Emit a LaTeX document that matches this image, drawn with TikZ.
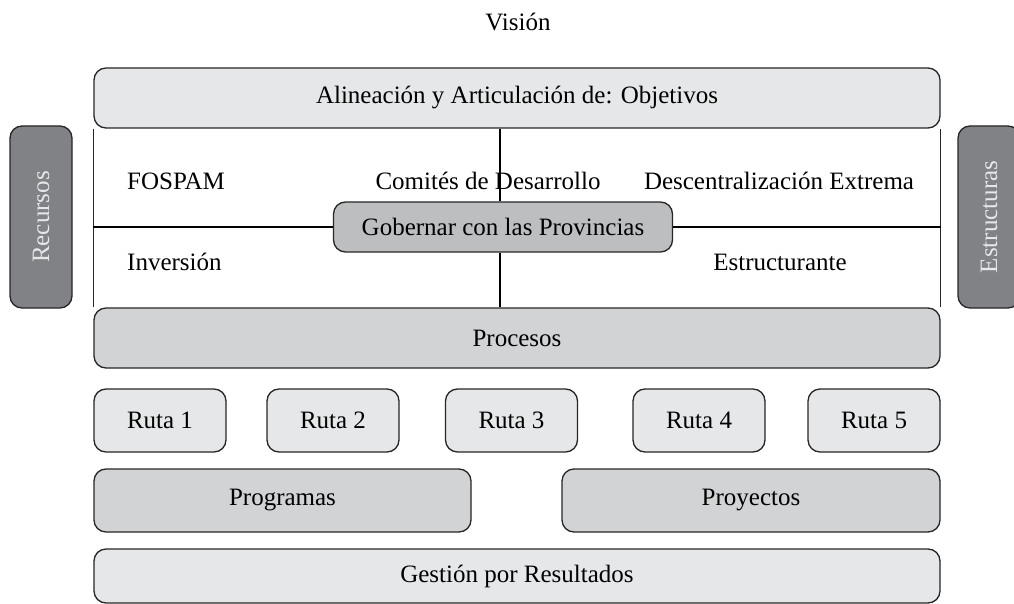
\documentclass[tikz,border=0pt]{standalone}
\usepackage{fontspec}
\setmainfont{Liberation Serif}
\usepackage{xcolor}
\usetikzlibrary{positioning}

\definecolor{grisclaro}{HTML}{E6E7E8}
\definecolor{grismedio}{HTML}{D1D3D4}
\definecolor{grisgob}{HTML}{BCBEC0}
\definecolor{grisoscuro}{HTML}{808285}

\begin{document}
\begin{tikzpicture}[
        x=1pt, y=-1pt,
        caja/.style={draw=black!85, line width=1.3pt, rounded corners=12pt, inner sep=0pt,
            font=\fontsize{25}{29}\selectfont},
        claro/.style={caja, fill=grisclaro},
        medio/.style={caja, fill=grismedio},
        oscuro/.style={caja, fill=grisoscuro, text=grisclaro, rotate=90,
            minimum width=182pt, minimum height=62pt},
        ruta/.style={claro, minimum width=132pt, minimum height=63pt},
        texto/.style={font=\fontsize{25}{29}\selectfont, inner sep=0pt},
        linea/.style={line width=2.6pt}
    ]
        \useasboundingbox (0,0) rectangle (1014,604);

        % 定义节点
        \node[texto] (vision) at (518,22) {Visión};
        \node[claro, minimum width=846pt, minimum height=60pt] (alin) at (517,98)
            {Alineación y Articulación de: Objetivos};
        \node[medio, minimum width=846pt, minimum height=60pt] (proc) at (517,338) {Procesos};
        \node[oscuro] (rec) at (41,217) {Recursos};
        \node[oscuro] (est) at (989,217) {Estructuras};

        \node[texto, anchor=west] (fospam) at (127,181) {FOSPAM};
        \node[texto] (comites) at (488,181) {Comités de Desarrollo};
        \node[texto] (descen) at (779,181) {Descentralización Extrema};
        \node[texto, anchor=west] (inver) at (127,262) {Inversión};
        \node[texto] (estruc) at (780,262) {Estructurante};

        \node[caja, fill=grisgob, minimum width=339pt, minimum height=50pt] (gob) at (503,227)
            {Gobernar con las Provincias};

        \node[ruta] (r1) at (160,420.5) {Ruta 1};
        \node[ruta] (r2) at (333,420.5) {Ruta 2};
        \node[ruta] (r3) at (511.5,420.5) {Ruta 3};
        \node[ruta] (r4) at (699,420.5) {Ruta 4};
        \node[ruta] (r5) at (874,420.5) {Ruta 5};

        \node[medio, minimum width=377pt, minimum height=63pt] (prog) at (282.5,500.5) {Programas};
        \node[medio, minimum width=378pt, minimum height=63pt] (proy) at (751,500.5) {Proyectos};
        \node[claro, minimum width=846pt, minimum height=54pt] (gest) at (517,576)
            {Gestión por Resultados};

        % 连接节点
        \draw[line width=1.3pt, draw=black!85] (alin.south west) -- (proc.north west);
        \draw[line width=1.3pt, draw=black!85] (alin.south east) -- (proc.north east);
        \draw[linea] ([xshift=-3pt]alin.south -| gob.north) -- ([xshift=-3pt]gob.north);
        \draw[linea] ([xshift=-3pt]gob.south) -- ([xshift=-3pt]proc.north -| gob.south);
        \draw[linea] (alin.west |- gob.west) -- (gob.west);
        \draw[linea] (gob.east) -- (alin.east |- gob.east);

    \end{tikzpicture}
\end{document}
